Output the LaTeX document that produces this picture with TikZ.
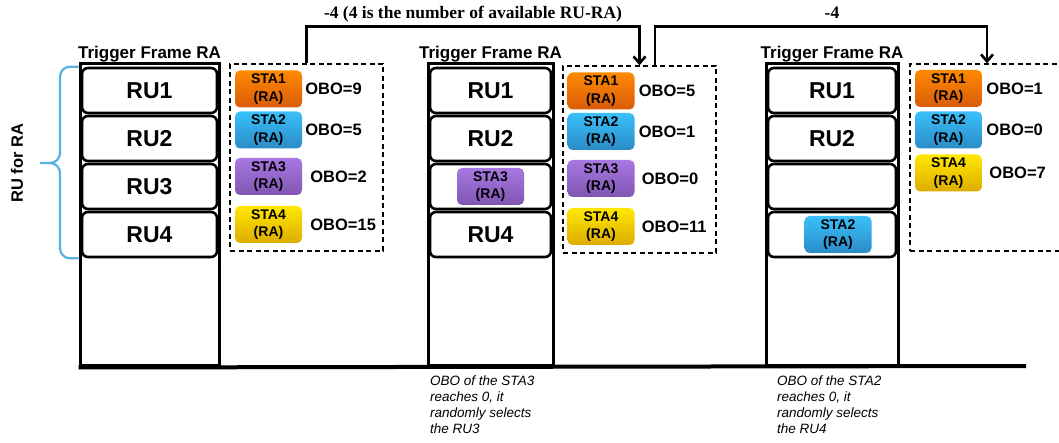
\documentclass[tikz,border=0pt]{standalone}
\usepackage{fontspec}
\setmainfont{Liberation Sans}
\newfontfamily\serifbf{Liberation Serif}
\usetikzlibrary{arrows.meta,calc}
\definecolor{OrangeTop}{HTML}{FF8A00}
\definecolor{OrangeBot}{HTML}{D95B0B}
\definecolor{CyanTop}{HTML}{3AC0FA}
\definecolor{CyanBot}{HTML}{2A8BC6}
\definecolor{PurpleTop}{HTML}{A878E2}
\definecolor{PurpleBot}{HTML}{8055B2}
\definecolor{YellowTop}{HTML}{FFE800}
\definecolor{YellowBot}{HTML}{DDAC00}
\definecolor{BraceBlue}{HTML}{55B2E2}

\tikzset{
  frame/.style={draw, line width=3pt, inner sep=0pt, minimum height=301pt},
  rubox/.style={draw, line width=2.6pt, rounded corners=6pt, inner sep=0pt,
                minimum height=45pt, font=\fontsize{23}{25}\selectfont\bfseries},
  stabox/.style={rounded corners=5pt, inner sep=0pt, align=center,
                 minimum width=67pt, minimum height=37pt,
                 font=\fontsize{14}{17.5}\selectfont\bfseries},
  sta1/.style={stabox, top color=OrangeTop, bottom color=OrangeBot},
  sta2/.style={stabox, top color=CyanTop, bottom color=CyanBot},
  sta3/.style={stabox, top color=PurpleTop, bottom color=PurpleBot},
  sta4/.style={stabox, top color=YellowTop, bottom color=YellowBot},
  obo/.style={anchor=west, inner sep=0pt, font=\fontsize{16.5}{18}\selectfont\bfseries},
  pool/.style={draw, dash pattern=on 5pt off 3.5pt, line width=1.3pt, inner sep=0pt,
               minimum width=153pt, minimum height=187pt},
  tflabel/.style={anchor=base, inner sep=0pt, font=\fontsize{17}{19}\selectfont\bfseries},
  note/.style={anchor=north west, align=left, inner sep=0pt,
               font=\fontsize{13.5}{16}\selectfont\itshape},
  backoff/.style={line width=2.6pt, -{Straight Barb[length=7pt,width=12pt]}},
  steplabel/.style={inner sep=0pt, font=\serifbf\fontsize{17.5}{19}\selectfont\bfseries},
}

\begin{document}
\begin{tikzpicture}[x=1pt, y=-1pt]
  \useasboundingbox (0,0) rectangle (1059,443);

  % trigger frames
  \node[frame, minimum width=139pt] (f1) at (149.5,214.5) {};
  \node[frame, minimum width=125pt] (f2) at (490.5,214.5) {};
  \node[frame, minimum width=132pt] (f3) at (832,214.5) {};
  \node[tflabel] (t1) at ($(f1.north)+(0,-4)$) {Trigger Frame RA};
  \node[tflabel] (t2) at ($(f2.north)+(0,-4)$) {Trigger Frame RA};
  \node[tflabel] (t3) at ($(f3.north)+(0,-4)$) {Trigger Frame RA};

  % resource units
  \foreach \t [count=\i] in {RU1,RU2,RU3,RU4}
    \node[rubox, minimum width=135pt] (a\i) at (149.5,42.5+48*\i) {\t};
  \foreach \t [count=\i] in {RU1,RU2,{},RU4}
    \node[rubox, minimum width=121pt] (b\i) at (490.5,42.5+48*\i) {\t};
  \foreach \t [count=\i] in {RU1,RU2,{},{}}
    \node[rubox, minimum width=128pt] (c\i) at (832,42.5+48*\i) {\t};
  \node[sta3] (b3sta) at (b3) {STA3\\(RA)};
  \node[sta2] (c4sta) at ([xshift=6pt]c4) {STA2\\(RA)};

  % ground line
  \coordinate (gend) at (1026,366);
  \draw[line width=4pt] ([yshift=-1pt]f1.south west) -- (gend);

  % RU for RA brace
  \draw[BraceBlue, line width=2.2pt, rounded corners=10pt]
    ([xshift=-2pt]a1.north west) -| (60,163) -- (40,163)
    (40,163) -- (60,163) |- ([xshift=-2pt]a4.south west);
  \node[rotate=90, font=\fontsize{16.5}{18}\selectfont\bfseries] (rura) at (17,163) {RU for RA};

  % stations waiting for access
  \node[pool] (d1) at (306.5,157.5) {};
  \node[pool] (d2) at (639.5,159.5) {};
  \node[pool, minimum width=154pt] (d3) at (987,157.5) {};

  \foreach \s/\y/\g/\v in {1/89/3/9, 2/130/3/5, 3/176.5/8/2, 4/224.5/8/15} {
    \node[sta\s] (p1s\s) at (268.5,\y) {STA\s\\(RA)};
    \node[obo] (p1o\s) at ([xshift=\g pt]p1s\s.east) {OBO=\v};
  }
  \foreach \s/\y/\g/\v in {1/91/4/5, 2/131.5/4/1, 3/178.5/7/0, 4/226.5/7/11} {
    \node[sta\s] (p2s\s) at (601,\y) {STA\s\\(RA)};
    \node[obo] (p2o\s) at ([xshift=\g pt]p2s\s.east) {OBO=\v};
  }
  \foreach \s/\y/\g/\v in {1/88.5/4/1, 2/130/4/0, 4/173/7/7} {
    \node[sta\s] (p3s\s) at (948.5,\y) {STA\s\\(RA)};
    \node[obo] (p3o\s) at ([xshift=\g pt]p3s\s.east) {OBO=\v};
  }

  % backoff decrements
  \draw[backoff] (d1.north) -- ++(0,-37) -| (d2.north);
  \coordinate (a2) at ($(d2.north west)!0.6!(d2.north east)$);
  \draw[backoff] (a2) -- ++(0,-39) -| (d3.north);
  \node[steplabel] (s1) at (473,14) {-4 (4 is the number of available RU-RA)};
  \node[steplabel] (s2) at (832,13) {-4};

  % notes
  \node[note] (n1) at (430,376) {OBO of the STA3\\reaches 0, it\\randomly selects\\the RU3};
  \node[note] (n2) at (777,376) {OBO of the STA2\\reaches 0, it\\randomly selects\\the RU4};
\end{tikzpicture}
\end{document}
